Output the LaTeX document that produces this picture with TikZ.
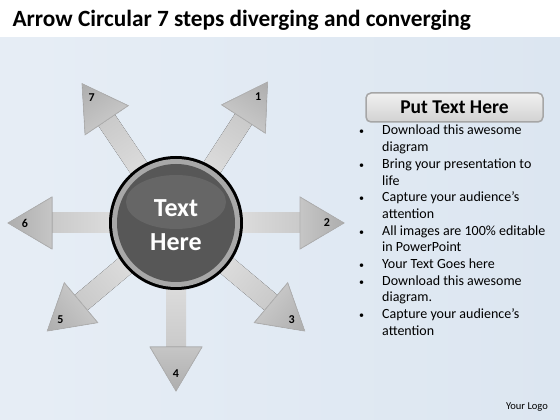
\documentclass[tikz,border=0pt]{standalone}
\usepackage{fontspec}
\setmainfont{Carlito}
\usetikzlibrary{calc,shapes}
\definecolor{VSky}{HTML}{DCE6F1}
\definecolor{VPale}{HTML}{F8FAFC}
\definecolor{VHub}{HTML}{575757}
\definecolor{VGloss}{HTML}{666666}
\definecolor{VRing}{HTML}{A8A8A8}
\newcommand{\listdot}{{\fontsize{10}{10}\selectfont •}}
\tikzset{
    shaft/.style = {left color=gray!22, right color=gray!42},
    head/.style = {draw=gray!62, line width=0.8pt, left color=gray!45, right color=gray!64},
    steplabel/.style = {font=\bfseries\fontsize{12}{12}\selectfont},
    hub/.style = {circle, inner sep=0pt},
    bar/.style = {draw=gray!70, line width=1.5pt, rounded corners=5pt,
        top color=gray!12, bottom color=gray!35, inner sep=0pt}
}
\begin{document}
\begin{tikzpicture}[x=1pt,y=1pt]
  \useasboundingbox (0,0) rectangle (560,420);
  \fill[white] (0,0) rectangle (560,420);
  \shade[left color=VSky!70, middle color=VPale, right color=VSky] (0,0) rectangle (560,382);
  \node[anchor=west,font=\bfseries\fontsize{23.3}{27}\selectfont] (title) at (9,400)
    {Arrow Circular 7 steps diverging and converging};
  \coordinate (c) at (176,197);
  % the seven arrows
  \foreach \a/\n in {57/1,0/2,-40/3,-90/4,-140/5,180/6,124/7}{
    \begin{scope}[transform canvas={shift={(c)},rotate=\a}]
      \fill[shaft] (40,-10) rectangle (126,10);
      \filldraw[head] (124,-26) -- (168,0) -- (124,26) -- cycle;
    \end{scope}
    \node[steplabel] (n\n) at ($(c)+(\a:151)$) {\n};
  };
  % hub
  \node[hub, fill=black, minimum size=134] (rim) at (c) {};
  \node[hub, fill=VRing, minimum size=128] (ring) at (c) {};
  \node[hub, fill=VHub, minimum size=118] (core) at (c) {};
  \node[ellipse, fill=VGloss, minimum width=100, minimum height=54, inner sep=0pt] (gloss)
    at ($(c)+(0,21)$) {};
  \node[text=white, align=center, font=\bfseries\fontsize{26}{34}\selectfont] (hubtext)
    at ($(c)+(0,-2)$) {Text\\Here};
  % right panel
  \node[bar, minimum width=177, minimum height=29, font=\bfseries\fontsize{19.5}{22}\selectfont]
    (bar) at (454.5,312.5) {Put Text Here};
  \node[anchor=base west, inner sep=0pt, font=\fontsize{14}{16.7}\selectfont] (list) at (359,285)
    {\begin{tabular}[t]{@{}p{23pt}@{}l@{}}
      \listdot & Download this awesome\\
               & diagram\\
      \listdot & Bring your presentation to\\
               & life\\
      \listdot & Capture your audience’s\\
               & attention\\
      \listdot & All images are 100\% editable\\
               & in PowerPoint\\
      \listdot & Your Text Goes here\\
      \listdot & Download this awesome\\
               & diagram.\\
      \listdot & Capture your audience’s\\
               & attention
    \end{tabular}};
  \node[font=\fontsize{10.5}{12}\selectfont] (logo) at (527,13) {Your Logo};
\end{tikzpicture}
\end{document}
